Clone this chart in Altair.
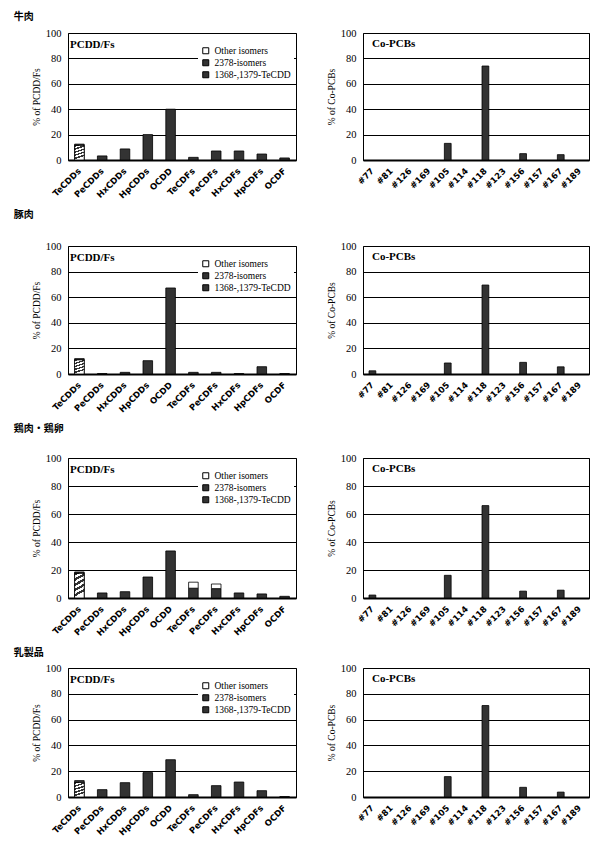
import altair as alt
import pandas as pd

# ---------------- data ----------------
sections = ["牛肉", "豚肉", "鶏肉・鶏卵", "乳製品"]

pcdd_cats = ["TeCDDs", "PeCDDs", "HxCDDs", "HpCDDs", "OCDD",
             "TeCDFs", "PeCDFs", "HxCDFs", "HpCDFs", "OCDF"]
pcb_cats = ["#77", "#81", "#126", "#169", "#105", "#114",
            "#118", "#123", "#156", "#157", "#167", "#189"]
iso_names = ["Other isomers", "2378-isomers", "1368-,1379-TeCDD"]

# 牛肉
beef_1368 = [11.5, 0, 0, 0, 0, 0, 0, 0, 0, 0]
beef_2378 = [1.0, 3.2, 8.7, 20.0, 40.0, 2.1, 7.1, 7.1, 4.7, 1.6]
beef_other = [0, 0, 0, 0, 0, 0, 0, 0, 0, 0]
beef_pcb = [0, 0, 0, 0, 13.1, 0, 74.0, 0, 5.0, 0, 4.2, 0]

# 豚肉
pork_1368 = [11.0, 0, 0, 0, 0, 0, 0, 0, 0, 0]
pork_2378 = [1.0, 0.3, 1.3, 10.4, 67.2, 1.3, 1.3, 0.3, 5.7, 0.3]
pork_other = [0, 0, 0, 0, 0, 0, 0, 0, 0, 0]
pork_pcb = [2.5, 0, 0, 0, 8.6, 0, 69.5, 0, 9.1, 0, 5.6, 0]

# 鶏肉・鶏卵
chick_1368 = [17.6, 0, 0, 0, 0, 0, 0, 0, 0, 0]
chick_2378 = [1.0, 3.6, 4.5, 15.0, 33.6, 7.0, 6.7, 3.6, 2.9, 1.2]
chick_other = [0, 0, 0, 0, 0, 4.3, 3.3, 0, 0, 0]
chick_pcb = [2.1, 0, 0, 0, 16.2, 0, 66.0, 0, 4.9, 0, 5.6, 0]

# 乳製品
dairy_1368 = [11.2, 0, 0, 0, 0, 0, 0, 0, 0, 0]
dairy_2378 = [1.5, 5.7, 11.1, 18.9, 28.9, 1.8, 8.8, 11.6, 4.9, 0.3]
dairy_other = [0, 0, 0, 0, 0, 0, 0, 0, 0, 0]
dairy_pcb = [0, 0, 0, 0, 15.8, 0, 70.9, 0, 7.5, 0, 3.8, 0]

# ---------------- styling ----------------
SERIF = "Liberation Serif"
LABEL_FONT = "DejaVu Sans"
DARK = "#333333"
row_heights = [127, 128, 140, 129]
title_offsets = [6, 21, 19, 5]

stops = []
n_bands = 10
for i in range(n_bands):
    col = DARK if i % 2 == 0 else "white"
    stops.append(alt.GradientStop(offset=i / n_bands, color=col))
    stops.append(alt.GradientStop(offset=(i + 1) / n_bands, color=col))
hatch_fill = alt.LinearGradient(gradient="linear", x1=0, y1=0, x2=0.22, y2=1, stops=stops)


def x_axis():
    return alt.Axis(title=None, labelAngle=-45, labelAlign="right", labelBaseline="middle",
                    labelPadding=9, ticks=False, grid=False, domainColor="black", domainWidth=2,
                    labelFont=LABEL_FONT, labelFontWeight="bold", labelFontSize=8.5,
                    labelColor="black")


def y_axis(title):
    return alt.Axis(values=[0, 20, 40, 60, 80, 100], title=title, grid=True, gridColor="black",
                    gridWidth=1, domain=False, ticks=False, labelPadding=7, titlePadding=4,
                    labelFont=SERIF, labelFontSize=10.5, labelColor="black",
                    titleFont=SERIF, titleFontSize=9.5, titleFontWeight="normal",
                    titleColor="black")


def panel_label(text, dx, dy):
    return alt.Chart(pd.DataFrame({"t": [text]})).mark_text(
        align="left", baseline="alphabetic", font=SERIF, fontWeight="bold", fontSize=11,
        color="black").encode(x=alt.value(dx), y=alt.value(dy), text="t:N")


def pcdd_panel(a1368, a2378, aother, h):
    rows = []
    for i, c in enumerate(pcdd_cats):
        for iso, vals, o in [("1368-,1379-TeCDD", a1368, 0), ("2378-isomers", a2378, 1),
                             ("Other isomers", aother, 2)]:
            if vals[i] > 0:
                rows.append({"cat": c, "iso": iso, "value": vals[i], "ord": o})
    df = pd.DataFrame(rows)
    xenc = alt.X("cat:N", sort=pcdd_cats,
                 scale=alt.Scale(domain=pcdd_cats, paddingInner=0.58, paddingOuter=0.29),
                 axis=x_axis())
    yenc = alt.Y("value:Q", scale=alt.Scale(domain=[0, 100], nice=False),
                 axis=y_axis("% of PCDD/Fs"))
    bars = alt.Chart(df).mark_bar(stroke="black", strokeWidth=0.8).encode(
        x=xenc, y=yenc,
        color=alt.Color("iso:N", scale=alt.Scale(domain=iso_names, range=["white", DARK, DARK]),
                        legend=alt.Legend(orient="none", legendX=130, legendY=10, title=None,
                                          fillColor="white", padding=3, symbolType="square",
                                          symbolSize=36, symbolStrokeColor="black",
                                          symbolStrokeWidth=1, labelFont=SERIF,
                                          labelFontSize=9.5, labelColor="black",
                                          rowPadding=1, labelLimit=200)),
        order=alt.Order("ord:Q", sort="ascending"))
    hatch = alt.Chart(df).transform_filter(alt.datum.iso == "1368-,1379-TeCDD").mark_bar(
        fill=hatch_fill, stroke="black", strokeWidth=0.8).encode(x=xenc, y=yenc)
    lab = panel_label("PCDD/Fs", 2, 15)
    return alt.layer(bars, hatch, lab).properties(width=228, height=h)


def pcb_panel(vals, h):
    df = pd.DataFrame({"cat": pcb_cats, "value": vals})
    df = df[df["value"] > 0]
    bars = alt.Chart(df).mark_bar(fill=DARK, stroke="black", strokeWidth=0.8).encode(
        x=alt.X("cat:N", sort=pcb_cats,
                scale=alt.Scale(domain=pcb_cats, paddingInner=0.64, paddingOuter=0.32),
                axis=x_axis()),
        y=alt.Y("value:Q", scale=alt.Scale(domain=[0, 100], nice=False),
                axis=y_axis("% of Co-PCBs")))
    lab = panel_label("Co-PCBs", 9, 14)
    return alt.layer(bars, lab).properties(width=226, height=h)


data_sets = [
    (beef_1368, beef_2378, beef_other, beef_pcb),
    (pork_1368, pork_2378, pork_other, pork_pcb),
    (chick_1368, chick_2378, chick_other, chick_pcb),
    (dairy_1368, dairy_2378, dairy_other, dairy_pcb),
]

rows = []
for k, (a, b, c, p) in enumerate(data_sets):
    row = alt.hconcat(
        pcdd_panel(a, b, c, row_heights[k]),
        pcb_panel(p, row_heights[k]),
        spacing=28,
        title=alt.TitleParams(text=sections[k], anchor="start", font="Noto Sans CJK JP",
                              fontSize=10, fontWeight="bold", color="black",
                              offset=title_offsets[k], dx=-17),
    ).resolve_scale(color="independent").resolve_legend(color="independent")
    rows.append(row)

chart = alt.vconcat(*rows, spacing=9).resolve_scale(color="independent").resolve_legend(
    color="independent").properties(
    padding={"left": 5, "top": 3, "right": 5, "bottom": 5},
    background="white",
).configure_view(stroke="black", strokeWidth=1)

chart.save("out.html", embed_options={"renderer": "svg", "actions": False})
